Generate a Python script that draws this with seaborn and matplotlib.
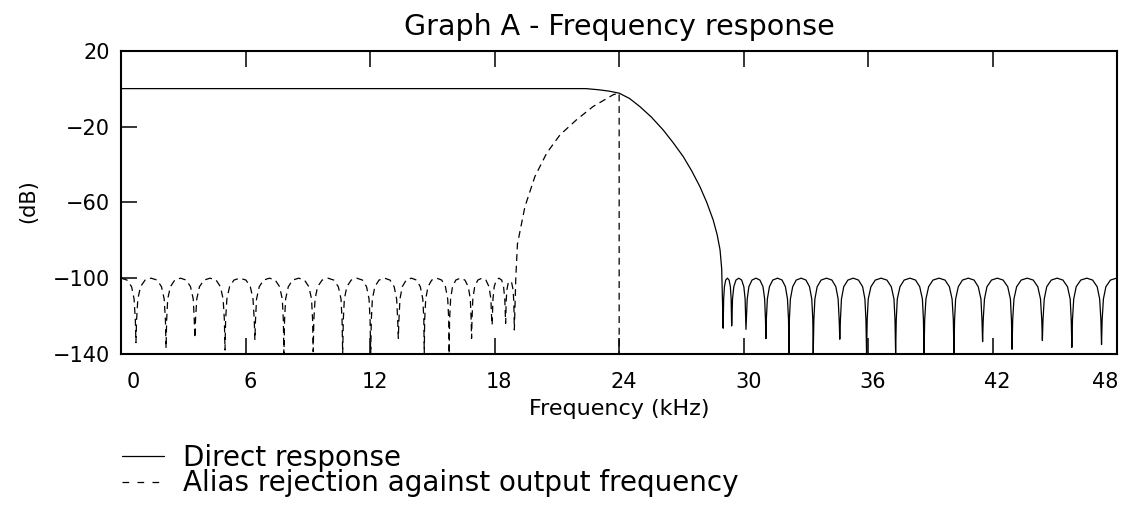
import matplotlib
matplotlib.use("Agg")
import matplotlib.pyplot as plt
from matplotlib.transforms import ScaledTranslation
import seaborn as sns

# ---------------- data ----------------
title = "Graph A - Frequency response"
x_label = "Frequency (kHz)"
y_label = "(dB)"
x_ticks = [0, 6, 12, 18, 24, 30, 36, 42, 48]
y_ticks = [20, -20, -60, -100, -140]
series_labels = ["Direct response", "Alias rejection against output frequency"]

# Direct response (solid): pass band, transition, then stop-band lobes
direct_khz = [
    0.0, 22.4, 23.0, 23.5, 24.0, 24.5, 25.0, 25.55, 26.12, 26.6, 27.09, 27.5,
    27.89, 28.22, 28.53, 28.72, 28.86, 28.94, 29.01,
    29.018, 29.035, 29.072, 29.133, 29.215, 29.297, 29.359, 29.395, 29.412, 29.42,
    29.434, 29.461, 29.524, 29.627, 29.765, 29.903, 30.007, 30.069, 30.096, 30.11,
    30.13, 30.17, 30.25, 30.40, 30.59, 30.78, 30.93, 31.01, 31.05, 31.07,
    31.09, 31.14, 31.24, 31.40, 31.63, 31.85, 32.01, 32.11, 32.16, 32.18,
    32.20, 32.25, 32.36, 32.53, 32.77, 33.00, 33.17, 33.28, 33.33, 33.35,
    33.38, 33.43, 33.54, 33.73, 33.99, 34.25, 34.44, 34.55, 34.60, 34.63,
    34.66, 34.71, 34.82, 35.02, 35.28, 35.53, 35.73, 35.84, 35.89, 35.92,
    35.95, 36.00, 36.13, 36.34, 36.62, 36.90, 37.11, 37.24, 37.29, 37.32,
    37.35, 37.40, 37.53, 37.73, 38.01, 38.28, 38.48, 38.61, 38.66, 38.69,
    38.72, 38.78, 38.91, 39.12, 39.41, 39.70, 39.91, 40.04, 40.10, 40.13,
    40.16, 40.21, 40.34, 40.54, 40.82, 41.10, 41.30, 41.43, 41.48, 41.51,
    41.54, 41.60, 41.72, 41.94, 42.22, 42.50, 42.72, 42.85, 42.90, 42.93,
    42.96, 43.02, 43.15, 43.37, 43.66, 43.95, 44.17, 44.30, 44.36, 44.39,
    44.42, 44.48, 44.60, 44.82, 45.10, 45.38, 45.60, 45.73, 45.78, 45.81,
    45.84, 45.90, 46.02, 46.24, 46.53, 46.81, 47.03, 47.15, 47.21, 47.24,
    47.27, 47.33, 47.45, 47.67, 47.96, 48.0,
]
direct_db = [
    0.0, 0.0, -0.6, -1.3, -2.4, -5.2, -9.5, -15.0, -21.8, -28.5, -35.9, -43.5,
    -51.7, -60.0, -69.3, -77.0, -85.0, -95.0, -126.4,
    -122, -111, -104.5, -101, -100, -101, -104.5, -111, -122, -125.2,
    -122, -111, -104.5, -101, -100, -101, -104.5, -111, -122, -127.0,
    -122, -111, -104.5, -101, -100, -101, -104.5, -111, -122, -131.9,
    -122, -111, -104.5, -101, -100, -101, -104.5, -111, -122, -140.0,
    -122, -111, -104.5, -101, -100, -101, -104.5, -111, -122, -140.0,
    -122, -111, -104.5, -101, -100, -101, -104.5, -111, -122, -132.2,
    -122, -111, -104.5, -101, -100, -101, -104.5, -111, -122, -140.0,
    -122, -111, -104.5, -101, -100, -101, -104.5, -111, -122, -140.0,
    -122, -111, -104.5, -101, -100, -101, -104.5, -111, -122, -140.0,
    -122, -111, -104.5, -101, -100, -101, -104.5, -111, -122, -140.0,
    -122, -111, -104.5, -101, -100, -101, -104.5, -111, -122, -133.5,
    -122, -111, -104.5, -101, -100, -101, -104.5, -111, -122, -137.5,
    -122, -111, -104.5, -101, -100, -101, -104.5, -111, -122, -132.9,
    -122, -111, -104.5, -101, -100, -101, -104.5, -111, -122, -136.5,
    -122, -111, -104.5, -101, -100, -101, -104.5, -111, -122, -135.0,
    -122, -111, -104.5, -101, -100, -100,
]

# Alias rejection (dashed): lobes, main lobe, vertical drop at 24 kHz
alias_khz = [
    0.0, 0.29, 0.51, 0.63, 0.69, 0.72,
    0.75, 0.81, 0.94, 1.16, 1.45, 1.74, 1.95, 2.08, 2.14, 2.17,
    2.20, 2.25, 2.38, 2.59, 2.87, 3.14, 3.35, 3.48, 3.53, 3.56,
    3.59, 3.65, 3.78, 4.00, 4.29, 4.58, 4.79, 4.92, 4.98, 5.01,
    5.04, 5.10, 5.23, 5.44, 5.73, 6.02, 6.23, 6.36, 6.42, 6.45,
    6.48, 6.53, 6.66, 6.87, 7.15, 7.43, 7.64, 7.77, 7.82, 7.85,
    7.88, 7.93, 8.06, 8.27, 8.56, 8.84, 9.05, 9.18, 9.23, 9.26,
    9.29, 9.35, 9.47, 9.69, 9.97, 10.25, 10.47, 10.60, 10.65, 10.68,
    10.71, 10.76, 10.88, 11.09, 11.36, 11.63, 11.83, 11.95, 12.00, 12.03,
    12.06, 12.11, 12.23, 12.43, 12.70, 12.96, 13.16, 13.28, 13.33, 13.36,
    13.39, 13.44, 13.55, 13.74, 13.99, 14.24, 14.42, 14.54, 14.59, 14.61,
    14.63, 14.68, 14.79, 14.97, 15.21, 15.45, 15.63, 15.74, 15.79, 15.81,
    15.83, 15.88, 15.97, 16.13, 16.35, 16.57, 16.73, 16.83, 16.87, 16.89,
    16.91, 16.95, 17.04, 17.19, 17.39, 17.58, 17.73, 17.82, 17.86, 17.88,
    17.89, 17.92, 17.98, 18.08, 18.21, 18.34, 18.43, 18.49, 18.52, 18.53,
    18.538, 18.555, 18.593, 18.656, 18.74, 18.824, 18.887, 18.925, 18.942, 18.95,
    19.02, 19.10, 19.46, 19.94, 20.51, 21.15, 21.95, 22.75, 23.72, 24.0, 24.0,
]
alias_db = [
    -100, -101, -104.5, -111, -122, -134.0,
    -122, -111, -104.5, -101, -100, -101, -104.5, -111, -122, -137.0,
    -122, -111, -104.5, -101, -100, -101, -104.5, -111, -122, -131.6,
    -122, -111, -104.5, -101, -100, -101, -104.5, -111, -122, -137.9,
    -122, -111, -104.5, -101, -100, -101, -104.5, -111, -122, -132.6,
    -122, -111, -104.5, -101, -100, -101, -104.5, -111, -122, -140.0,
    -122, -111, -104.5, -101, -100, -101, -104.5, -111, -122, -138.8,
    -122, -111, -104.5, -101, -100, -101, -104.5, -111, -122, -140.0,
    -122, -111, -104.5, -101, -100, -101, -104.5, -111, -122, -140.0,
    -122, -111, -104.5, -101, -100, -101, -104.5, -111, -122, -131.7,
    -122, -111, -104.5, -101, -100, -101, -104.5, -111, -122, -140.0,
    -122, -111, -104.5, -101, -100, -101, -104.5, -111, -122, -140.0,
    -122, -111, -104.5, -101, -100, -101, -104.5, -111, -122, -131.7,
    -122, -111, -104.5, -101, -100, -101, -104.5, -111, -122, -124.7,
    -121, -111, -104.5, -101, -100, -101, -104.5, -111, -121, -123.8,
    -122, -112.5, -106, -102.5, -101.5, -102.5, -106, -112.5, -122, -127.3,
    -100.0, -82.0, -62.3, -46.4, -34.0, -24.4, -16.4, -9.4, -3.2, -2.4, -140.0,
]

# ---------------- styling ----------------
sns.set_theme(style="ticks")
plt.rcParams["font.family"] = ["DejaVu Sans"]
plt.rcParams["lines.scale_dashes"] = False
plt.rcParams["text.color"] = "black"
plt.rcParams["axes.labelcolor"] = "black"
plt.rcParams["xtick.color"] = "black"
plt.rcParams["ytick.color"] = "black"
plt.rcParams["axes.edgecolor"] = "black"

fig = plt.figure(figsize=(11.25, 5.11), dpi=100)
ax = fig.add_axes([0.10756, 0.30724, 0.88560, 0.59354])

sns.lineplot(x=direct_khz, y=direct_db, ax=ax, color="black", linewidth=0.9,
             sort=False, estimator=None, label=series_labels[0])
sns.lineplot(x=alias_khz, y=alias_db, ax=ax, color="black", linewidth=0.9,
             linestyle=(0, (5.0, 3.4)), sort=False, estimator=None,
             label=series_labels[1])

ax.set_xlim(0, 48)
ax.set_ylim(-140, 20)
ax.set_xticks(x_ticks)
ax.set_xticklabels([str(v) for v in x_ticks])
ax.set_yticks(y_ticks)
ax.set_yticklabels([f"{v}".replace("-", "\u2212") for v in y_ticks])

for s in ax.spines.values():
    s.set_linewidth(1.5)
    s.set_color("black")
ax.tick_params(axis="both", direction="in", length=11.5, width=1.1,
               colors="black", labelsize=15)
ax.tick_params(axis="x", top=True, bottom=True, pad=13)
ax.tick_params(axis="y", left=True, right=False, pad=8)

ax.set_title(title, fontsize=20.5, pad=11, color="black")
ax.set_xlabel(x_label, fontsize=16, color="black")
ax.set_ylabel(y_label, fontsize=15, color="black")
ax.yaxis.set_label_coords(-0.083, 0.505)
ax.xaxis.set_label_coords(0.5, -0.148)

leg = ax.legend(loc="upper left", bbox_to_anchor=(0.108, 0.132),
                bbox_transform=fig.transFigure, frameon=False, fontsize=20,
                handlelength=1.52, handletextpad=0.69, labelspacing=-0.08,
                borderpad=0, borderaxespad=0)
leg_lines = leg.get_lines()
for line in leg_lines:
    line.set_linewidth(0.9)
leg_lines[1].set_linestyle((0, (4.8, 6.0)))
for t in leg.get_texts():
    t.set_color("black")

fig.canvas.draw()
offsets_px = {0: 12, 48: -12}
for tick, val in zip(ax.xaxis.get_major_ticks(), x_ticks):
    dx = offsets_px.get(val, 4.5)
    lab = tick.label1
    lab.set_transform(lab.get_transform() + ScaledTranslation(dx / 100.0, 0, fig.dpi_scale_trans))

fig.savefig("out.png", dpi=100)
